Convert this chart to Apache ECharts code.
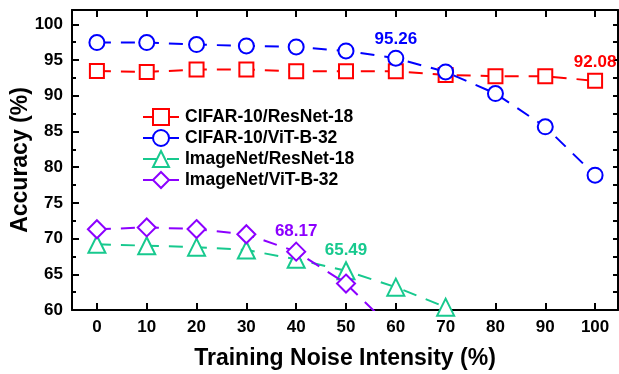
<!DOCTYPE html>
<html>
<head>
<meta charset="utf-8">
<script src="https://cdn.jsdelivr.net/npm/echarts@6/dist/echarts.min.js"></script>
<style>
html,body{margin:0;padding:0;background:#fff;}
#chart{width:619px;height:374px;}
</style>
</head>
<body>
<div id="chart"></div>
<script>
// ---- data ----
var noiseLevels = [0, 10, 20, 30, 40, 50, 60, 70, 80, 90, 100];
var cifarResNet = [93.47, 93.33, 93.66, 93.66, 93.43, 93.43, 93.43, 92.9, 92.73, 92.73, 92.08];
var cifarViT    = [97.44, 97.44, 97.16, 96.97, 96.83, 96.27, 95.26, 93.33, 90.3, 85.64, 78.88];
var imagenetResNet = [69.2, 69.0, 68.8, 68.4, 67.1, 65.49, 63.2, 60.4];
var imagenetViT    = [71.3, 71.56, 71.33, 70.6, 68.17, 63.7, 56.9];
var seriesNames = ['CIFAR-10/ResNet-18', 'CIFAR-10/ViT-B-32', 'ImageNet/ResNet-18', 'ImageNet/ViT-B-32'];
var labelledIndex = [10, 6, 5, 4];   // which point of each series carries a value label
var yTickValues = [60, 65, 70, 75, 80, 85, 90, 95, 100];

// ---- styles ----
var colors = ['#ff0000', '#0000ff', '#17c98e', '#8c00ff'];
var symbols = ['emptyRect', 'emptyCircle', 'emptyTriangle', 'emptyDiamond'];
var symbolSizes = [14, 15, 17, 18];
var FONT = 'Liberation Sans, Arial, sans-serif';

function buildData(values, li, color) {
  return values.map(function (v, i) {
    var item = { value: [noiseLevels[i], v] };
    if (i === li) {
      item.label = {
        show: true, position: 'top', distance: 2,
        formatter: v.toFixed(2),
        color: color, fontFamily: FONT, fontWeight: 'bold', fontSize: 17
      };
    }
    return item;
  });
}

var allValues = [cifarResNet, cifarViT, imagenetResNet, imagenetViT];
var series = allValues.map(function (vals, k) {
  return {
    name: seriesNames[k],
    type: 'line',
    data: buildData(vals, labelledIndex[k], colors[k]),
    symbol: symbols[k],
    symbolSize: symbolSizes[k],
    clip: true,
    lineStyle: { color: colors[k], width: 2, type: [14, 10] },
    itemStyle: { color: colors[k], borderWidth: 2, borderColor: colors[k] },
    emphasis: { disabled: true },
    z: 2 + k
  };
});

var chart = echarts.init(document.getElementById('chart'), null, { renderer: 'canvas' });
var axisLineStyle = { color: '#000', width: 2 };
chart.setOption({
  animation: false,
  backgroundColor: '#fff',
  grid: { left: 72, top: 10, width: 546, height: 300, containLabel: false, outerBoundsMode: 'none' },
  legend: {
    orient: 'vertical',
    left: 137, top: 103,
    itemWidth: 36, itemHeight: 20, itemGap: 3,
    textStyle: { fontFamily: FONT, fontWeight: 'bold', fontSize: 17.5, color: '#000', padding: [0, 0, 0, 1] },
    data: seriesNames
  },
  xAxis: [{
    type: 'value', position: 'bottom', min: -5, max: 104.6,
    name: 'Training Noise Intensity (%)', nameLocation: 'middle', nameGap: 37, nameMoveOverlap: false,
    nameTextStyle: { fontFamily: FONT, fontWeight: 'bold', fontSize: 23, color: '#000' },
    axisLine: { show: true, onZero: false, lineStyle: axisLineStyle },
    axisTick: { show: true, inside: true, length: 7, lineStyle: { color: '#000', width: 2 }, customValues: noiseLevels },
    axisLabel: { show: true, margin: 9, fontFamily: FONT, fontWeight: 'bold', fontSize: 17, color: '#000', customValues: noiseLevels },
    splitLine: { show: false }
  }, {
    type: 'value', position: 'top', min: -5, max: 104.6,
    axisLine: { show: true, onZero: false, lineStyle: axisLineStyle },
    axisTick: { show: true, inside: true, length: 7, lineStyle: { color: '#000', width: 2 }, customValues: noiseLevels },
    axisLabel: { show: false },
    splitLine: { show: false }
  }],
  yAxis: [{
    type: 'value', position: 'left', min: 60, max: 102, interval: 5,
    name: 'Accuracy (%)', nameLocation: 'middle', nameGap: 40, nameRotate: 90, nameMoveOverlap: false,
    nameTextStyle: { fontFamily: FONT, fontWeight: 'bold', fontSize: 23, color: '#000' },
    axisLine: { show: true, onZero: false, lineStyle: axisLineStyle },
    axisTick: { show: true, inside: true, length: 7, lineStyle: { color: '#000', width: 2 }, customValues: yTickValues },
    minorTick: { show: true, splitNumber: 2, length: 4, lineStyle: { color: '#000', width: 2 } },
    axisLabel: { show: true, margin: 9, fontFamily: FONT, fontWeight: 'bold', fontSize: 17, color: '#000', customValues: yTickValues },
    splitLine: { show: false }, minorSplitLine: { show: false }
  }, {
    type: 'value', position: 'right', min: 60, max: 102, interval: 2.5,
    axisLine: { show: true, onZero: false, lineStyle: axisLineStyle },
    axisTick: { show: true, inside: true, length: 5, lineStyle: { color: '#000', width: 2 } },
    axisLabel: { show: false },
    splitLine: { show: false }
  }],
  series: series
});
</script>
</body>
</html>
